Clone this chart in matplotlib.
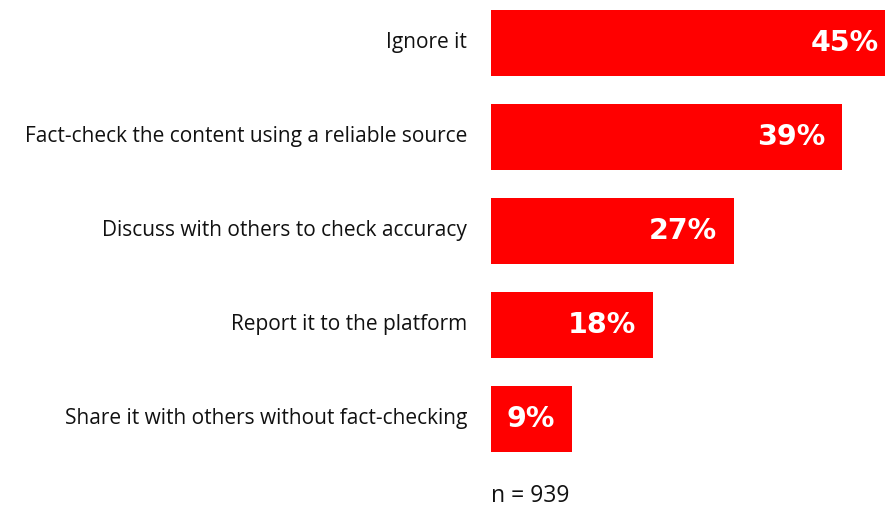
import matplotlib.pyplot as plt

# Survey responses
responses = [
    "Ignore it",
    "Fact-check the content using a reliable source",
    "Discuss with others to check accuracy",
    "Report it to the platform",
    "Share it with others without fact-checking",
]
shares = [45, 39, 27, 18, 9]
value_labels = ["45%", "39%", "27%", "18%", "9%"]
sample_note = "n = 939"

plt.rcParams["font.family"] = ["Open Sans", "DejaVu Sans"]

fig = plt.figure(figsize=(8.85, 5.08), dpi=100)
ax = fig.add_axes([491 / 885, 0, 394 / 885, 1])

ypos = list(range(len(responses)))
ax.barh(ypos, shares, height=0.70, color="#ff0000")

# the longest bar runs off the right edge
ax.set_xlim(0, 43.78)
ax.set_ylim(4.947, -0.457)
ax.axis("off")

for y, label in zip(ypos, responses):
    ax.text(-2.65, y, label, ha="right", va="center", fontsize=15,
            color="#111111")

for y, v, txt in zip(ypos, shares, value_labels):
    ax.text(v - 1.9, y, txt, ha="right", va="center", fontsize=20.5,
            fontweight="bold", color="white", family="DejaVu Sans",
            clip_on=False)

ax.text(0, 4.82, sample_note, ha="left", va="center", fontsize=16.5,
        color="#111111")

fig.savefig("out.png", dpi=100)
